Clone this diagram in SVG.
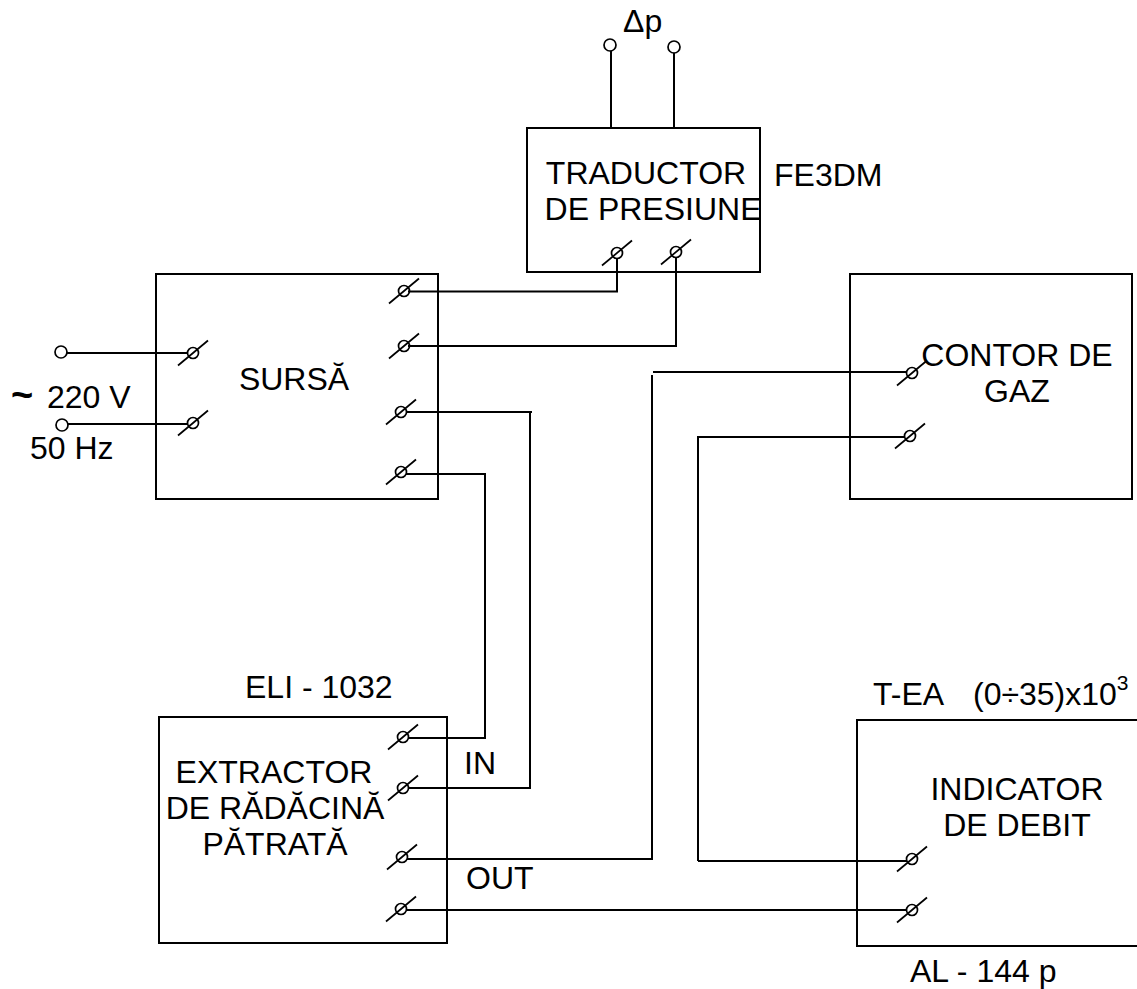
<svg xmlns="http://www.w3.org/2000/svg" width="1137" height="989" viewBox="0 0 1137 989">
<defs>
<g id="term"><circle r="5.5" fill="none" stroke="#000" stroke-width="1.7"/><line x1="-15" y1="12.5" x2="15" y2="-12.5" stroke="#000" stroke-width="1.7"/></g>
</defs>
<style>
.b{fill:none;stroke:#000;stroke-width:2}
.w{fill:none;stroke:#000;stroke-width:2}
.o{fill:#fff;stroke:#000;stroke-width:1.7}
text{font-family:"Liberation Sans",Arial,sans-serif;font-size:32px;fill:#000}
.m{text-anchor:middle}
</style>
<rect width="1137" height="989" fill="#fff"/>
<g id="connectors">
<path class="w" d="M611 50V128M674 52V128"/>
<path class="w" d="M408 291.500H617V258"/>
<path class="w" d="M408 346H676V258"/>
<path class="w" d="M406 412H532"/><path class="w" d="M530 413V788H408"/>
<path class="w" d="M406 474H485V738H408"/>
<path class="w" d="M407 859H652V375"/><path class="w" d="M653 372H907"/>
<path class="w" d="M698 861V437H905"/>
<path class="w" d="M698 861H907"/>
<path class="w" d="M406 910H907"/>
<path class="w" d="M67 353H188"/>
<path class="w" d="M68 424H188"/>
</g>
<g id="delta-p"><circle class="o" cx="610" cy="45" r="6"/><circle class="o" cx="674" cy="47" r="6"/><text x="623" y="32">Δp</text></g>
<g id="traductor"><rect class="b" x="527" y="128" width="233" height="144"/>
<text x="646" y="184" class="m">TRADUCTOR</text><text x="653" y="220" class="m">DE PRESIUNE</text>
<text x="774" y="186">FE3DM</text>
<use href="#term" x="617" y="253"/><use href="#term" x="676" y="252"/></g>
<g id="sursa"><rect class="b" x="156" y="274" width="282" height="225"/>
<text x="294" y="390" class="m">SURSĂ</text>
<use href="#term" x="193" y="353"/><use href="#term" x="193" y="423"/>
<use href="#term" x="404" y="291"/><use href="#term" x="404" y="346"/><use href="#term" x="401" y="412"/><use href="#term" x="401" y="472"/></g>
<g id="alimentare"><circle class="o" cx="61" cy="352" r="6"/><circle class="o" cx="62" cy="425" r="6"/>
<text x="11" y="408" style="font-size:38px;font-weight:bold">~</text><text x="47" y="408">220 V</text><text x="30" y="459">50 Hz</text></g>
<g id="extractor"><rect class="b" x="159" y="717" width="288" height="226"/>
<text x="274" y="783" class="m">EXTRACTOR</text><text x="275" y="819" class="m">DE RĂDĂCINĂ</text><text x="275" y="855" class="m">PĂTRATĂ</text>
<text x="245" y="698">ELI - 1032</text><text x="464" y="774">IN</text><text x="466" y="889">OUT</text>
<use href="#term" x="403" y="737"/><use href="#term" x="403" y="788"/><use href="#term" x="402" y="857"/><use href="#term" x="401" y="909"/></g>
<g id="contor"><rect class="b" x="850" y="274" width="282" height="225"/>
<text x="1017" y="366" class="m">CONTOR DE</text><text x="1017" y="402" class="m">GAZ</text>
<use href="#term" x="912" y="373"/><use href="#term" x="910" y="436"/></g>
<g id="indicator"><rect class="b" x="857" y="720" width="290" height="226"/>
<text x="1017" y="800" class="m">INDICATOR</text><text x="1017" y="836" class="m">DE DEBIT</text>
<text x="873" y="705">T-EA</text><text x="973" y="705">(0÷35)x10<tspan dy="-15" font-size="21">3</tspan></text>
<text x="910" y="982">AL - 144 p</text>
<use href="#term" x="912" y="859"/><use href="#term" x="912" y="910"/></g>
</svg>
